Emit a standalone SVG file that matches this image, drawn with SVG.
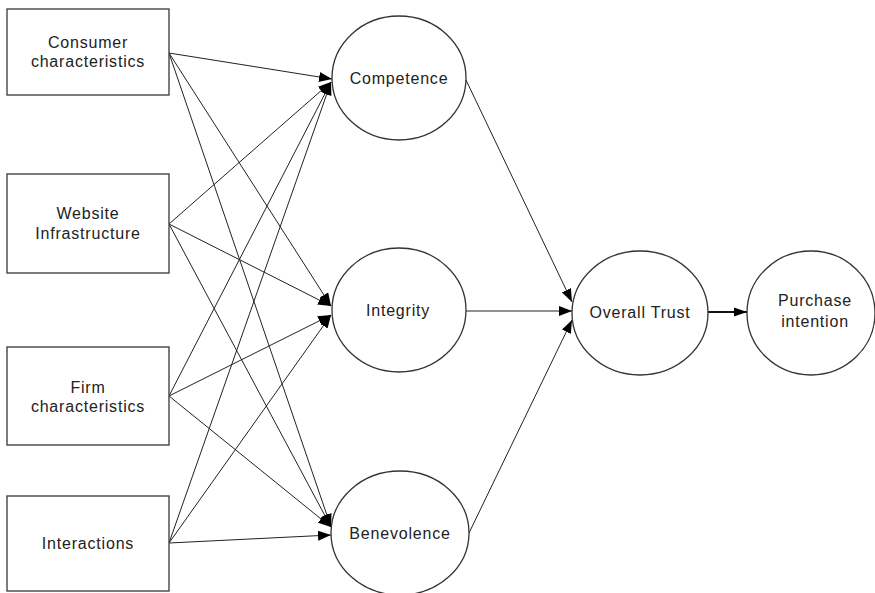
<svg xmlns="http://www.w3.org/2000/svg" width="875" height="593" viewBox="0 0 875 593">
<style>
.box{fill:#fff;stroke:#444;stroke-width:1.4}
.ell{fill:#fff;stroke:#333;stroke-width:1.3}
.t{font-family:"Liberation Sans",Arial,sans-serif;font-size:16px;letter-spacing:0.8px;fill:#222;text-anchor:middle}
.e{stroke:#222;stroke-width:1;fill:none;marker-end:url(#ah)}
.e2{stroke:#111;stroke-width:2;fill:none;marker-end:url(#ah2)}
</style>
<defs>
<marker id="ah" markerUnits="userSpaceOnUse" markerWidth="14" markerHeight="10" refX="13" refY="5" orient="auto">
<path d="M0,0 L13,5 L0,10 Z" fill="#000"/>
</marker>
<marker id="ah2" markerUnits="userSpaceOnUse" markerWidth="14" markerHeight="10" refX="13" refY="5" orient="auto">
<path d="M0,0.5 L13,5 L0,9.5 Z" fill="#000"/>
</marker>
</defs>
<rect width="875" height="593" fill="#fff"/>
<g id="connectors">
<line class="e" x1="169" y1="53" x2="332" y2="79"/>
<line class="e" x1="169" y1="224" x2="331" y2="82"/>
<line class="e" x1="169" y1="396" x2="331" y2="82"/>
<line class="e" x1="169" y1="543" x2="331" y2="82"/>
<line class="e" x1="169" y1="53" x2="331" y2="306"/>
<line class="e" x1="169" y1="224" x2="331" y2="306"/>
<line class="e" x1="169" y1="396" x2="331" y2="315"/>
<line class="e" x1="169" y1="543" x2="331" y2="315"/>
<line class="e" x1="169" y1="53" x2="331" y2="527"/>
<line class="e" x1="169" y1="224" x2="331" y2="527"/>
<line class="e" x1="169" y1="396" x2="331" y2="527"/>
<line class="e" x1="169" y1="543" x2="331" y2="535"/>
<line class="e" x1="466" y1="80" x2="572" y2="302"/>
<line class="e" x1="466" y1="311" x2="572" y2="311"/>
<line class="e" x1="469" y1="533" x2="572" y2="320"/>
<line class="e2" x1="708" y1="312" x2="747" y2="312"/>
</g>
<g id="consumer">
<rect class="box" x="7" y="9" width="162" height="86"/>
<text class="t" x="88" y="48">Consumer</text>
<text class="t" x="88" y="67">characteristics</text>
</g>
<g id="website">
<rect class="box" x="7" y="174" width="162" height="99"/>
<text class="t" x="88" y="219">Website</text>
<text class="t" x="88" y="239">Infrastructure</text>
</g>
<g id="firm">
<rect class="box" x="7" y="347" width="162" height="98"/>
<text class="t" x="88" y="393">Firm</text>
<text class="t" x="88" y="412">characteristics</text>
</g>
<g id="interactions">
<rect class="box" x="7" y="496" width="162" height="95"/>
<text class="t" x="88" y="549">Interactions</text>
</g>
<g id="competence">
<ellipse class="ell" cx="399" cy="78" rx="67" ry="62"/>
<text class="t" x="399" y="84">Competence</text>
</g>
<g id="integrity">
<ellipse class="ell" cx="399" cy="310" rx="67" ry="62"/>
<text class="t" x="398" y="316">Integrity</text>
</g>
<g id="benevolence">
<ellipse class="ell" cx="400" cy="533" rx="69" ry="62"/>
<text class="t" x="400" y="539">Benevolence</text>
</g>
<g id="overall-trust">
<ellipse class="ell" cx="640" cy="313" rx="68" ry="62"/>
<text class="t" x="640" y="318">Overall Trust</text>
</g>
<g id="purchase-intention">
<ellipse class="ell" cx="811" cy="313" rx="64" ry="62"/>
<text class="t" x="815" y="306">Purchase</text>
<text class="t" x="815" y="327">intention</text>
</g>
</svg>
